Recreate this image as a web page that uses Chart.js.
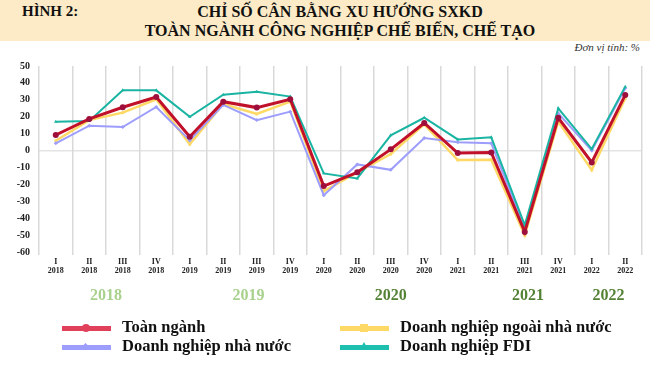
<!DOCTYPE html>
<html>
<head>
<meta charset="utf-8">
<script src="https://cdn.jsdelivr.net/npm/chart.js@4.4.0/dist/chart.umd.min.js"></script>
<style>
    body { margin: 0; width: 650px; height: 366px; background: #fff; position: relative; overflow: hidden; font-family: "Liberation Serif", serif; }
    .band { position: absolute; left: 0; top: 0; width: 650px; height: 41px; background: #fcebc6; }
    .fig { position: absolute; left: 22px; top: 3px; font-weight: bold; font-size: 15px; color: #111; }
    .title { position: absolute; left: 90px; width: 500px; text-align: center; font-weight: bold; font-size: 16px; color: #111; line-height: 19px; top: 2px; }
    .unit { position: absolute; right: 10px; top: 41px; font-style: italic; font-size: 11px; color: #333; }
    #chartWrap { position: absolute; left: 0; top: 0; width: 650px; height: 366px; }
    .legend-item { position: absolute; font-weight: bold; font-size: 16.5px; color: #111; height: 20px; line-height: 20px; }
    .sw { position: absolute; height: 5px; }
    .mk { position: absolute; }
</style>
</head>
<body>
<div class="band"></div>
<div class="fig">HÌNH 2:</div>
<div class="title">CHỈ SỐ CÂN BẰNG XU HƯỚNG SXKD<br>TOÀN NGÀNH CÔNG NGHIỆP CHẾ BIẾN, CHẾ TẠO</div>
<div class="unit">Đơn vị tính: %</div>
<div id="chartWrap"><canvas id="trendChart" width="650" height="366"></canvas></div>
<div id="legend"></div>

<script>
// Quarters and years
const quarters = ['I', 'II', 'III', 'IV', 'I', 'II', 'III', 'IV', 'I', 'II', 'III', 'IV', 'I', 'II', 'III', 'IV', 'I', 'II'];
const years = ['2018', '2018', '2018', '2018', '2019', '2019', '2019', '2019', '2020', '2020', '2020', '2020', '2021', '2021', '2021', '2021', '2022', '2022'];

// Series values (%)
const toanNganh = [9.2, 18.7, 25.6, 31.7, 8.2, 28.9, 25.4, 30.3, -21, -12.9, 0.7, 16.3, -1.5, -1.1, -48.1, 19.4, -7, 32.9];
const nhaNuoc = [4.3, 14.7, 13.9, 25.8, 6, 27, 18, 23, -26.4, -8.2, -11.4, 7.4, 4.9, 4.3, -46, 22, 0, 36.8];
const ngoaiNhaNuoc = [5.8, 18, 22.4, 30.3, 3.7, 27.5, 21.6, 29, -24, -13, -2.1, 15.5, -5.6, -5.4, -50, 17.1, -11.5, 31];
const fdi = [17.1, 17.5, 35.6, 35.6, 20, 33, 34.8, 31.9, -13.5, -16.5, 9, 19.4, 6.6, 7.8, -44.1, 25, 0.9, 37.8];

// Y axis ticks
const yTicks = [50, 40, 30, 20, 10, 0, -10, -20, -30, -40, -50, -60];

// Year group labels under the axis
const yearGroups = ['2018', '2019', '2020', '2021', '2022'];
const yearGroupAt = [1.5, 5.75, 10, 14.1, 16.5];
const yearGroupColors = ['#a9d18e', '#a9d18e', '#548235', '#548235', '#548235'];

const labels = quarters.map((q, i) => [q, years[i]]);

// Draw year group labels below the quarter labels
const yearLabelsPlugin = {
    id: 'yearLabels',
    afterDraw(chart) {
        const ctx = chart.ctx;
        const xScale = chart.scales.x;
        const step = xScale.getPixelForValue(1) - xScale.getPixelForValue(0);
        ctx.save();
        ctx.font = 'bold 16px "Liberation Serif", serif';
        ctx.textAlign = 'center';
        ctx.textBaseline = 'middle';
        yearGroups.forEach((y, i) => {
            ctx.fillStyle = yearGroupColors[i];
            ctx.fillText(y, xScale.getPixelForValue(0) + yearGroupAt[i] * step, 296);
        });
        ctx.restore();
    }
};

new Chart(document.getElementById('trendChart'), {
    type: 'line',
    data: {
        labels: labels,
        datasets: [
            {
                label: 'Toàn ngành',
                data: toanNganh,
                borderColor: '#c0102a',
                backgroundColor: '#9e0f3c',
                borderWidth: 3,
                pointStyle: 'circle',
                pointRadius: 3,
                pointBorderWidth: 0,
                order: 0
            },
            {
                label: 'Doanh nghiệp FDI',
                data: fdi,
                borderColor: '#1ab4a2',
                backgroundColor: '#1ab4a2',
                borderWidth: 2,
                pointStyle: 'triangle',
                pointRadius: 2,
                pointBorderWidth: 0,
                order: 1
            },
            {
                label: 'Doanh nghiệp nhà nước',
                data: nhaNuoc,
                borderColor: '#9d9dfd',
                backgroundColor: '#9d9dfd',
                borderWidth: 2,
                pointStyle: 'rectRot',
                pointRadius: 2,
                pointBorderWidth: 0,
                order: 2
            },
            {
                label: 'Doanh nghiệp ngoài nhà nước',
                data: ngoaiNhaNuoc,
                borderColor: '#ffd966',
                backgroundColor: '#ffd966',
                borderWidth: 2.5,
                pointStyle: 'rect',
                pointRadius: 2,
                pointBorderWidth: 0,
                order: 3
            }
        ]
    },
    options: {
        responsive: false,
        animation: false,
        tension: 0,
        layout: { padding: { top: 66, right: 8, left: 0, bottom: 0 } },
        plugins: {
            legend: { display: false },
            tooltip: { enabled: false }
        },
        scales: {
            y: {
                min: -60,
                max: 50,
                afterFit(scale) { scale.width = 39; },
                afterBuildTicks(scale) { scale.ticks = yTicks.map(v => ({ value: v })); },
                ticks: {
                    padding: 9,
                    color: '#222',
                    font: { family: '"Liberation Serif", serif', size: 10, weight: 'bold' }
                },
                grid: {
                    drawTicks: false,
                    lineWidth: 1.5,
                    color: (c) => (c.tick && c.tick.value === 0) ? '#e3e3e3' : 'rgba(0,0,0,0)'
                },
                border: { display: false }
            },
            x: {
                offset: true,
                afterFit(scale) { scale.height = 114; },
                ticks: {
                    autoSkip: false,
                    maxRotation: 0,
                    padding: 2,
                    color: '#222',
                    font: { family: '"Liberation Serif", serif', size: 8, weight: 'bold' }
                },
                grid: {
                    offset: true,
                    color: '#d9d9d9',
                    lineWidth: 1.5,
                    tickLength: 3
                },
                border: { display: false }
            }
        }
    },
    plugins: [yearLabelsPlugin]
});

// Custom legend (two columns)
const legendItems = [
    { text: 'Toàn ngành', color: '#e0405a', marker: 'circle', x: 62, y: 328 },
    { text: 'Doanh nghiệp nhà nước', color: '#9d9dfd', marker: 'diamond', x: 62, y: 347 },
    { text: 'Doanh nghiệp ngoài nhà nước', color: '#ffd966', marker: 'square', x: 340, y: 328 },
    { text: 'Doanh nghiệp FDI', color: '#1fbfb0', marker: 'triangle', x: 340, y: 347 }
];

const legendEl = document.getElementById('legend');
legendItems.forEach(item => {
    const sw = document.createElement('div');
    sw.className = 'sw';
    sw.style.left = item.x + 'px';
    sw.style.top = (item.y - 2) + 'px';
    sw.style.width = '49px';
    sw.style.background = item.color;
    legendEl.appendChild(sw);

    const mk = document.createElement('div');
    mk.className = 'mk';
    const cx = item.x + 24;
    if (item.marker === 'circle') {
        mk.style.cssText = `left:${cx - 4}px;top:${item.y - 4}px;width:8px;height:8px;border-radius:50%;background:${item.color};`;
    } else if (item.marker === 'square') {
        mk.style.cssText = `left:${cx - 4}px;top:${item.y - 4}px;width:8px;height:8px;background:${item.color};`;
    } else if (item.marker === 'diamond') {
        mk.style.cssText = `left:${cx - 3}px;top:${item.y - 3}px;width:5px;height:5px;transform:rotate(45deg);background:${item.color};`;
    } else {
        mk.style.cssText = `left:${cx - 4}px;top:${item.y - 5}px;width:0;height:0;border-left:4px solid transparent;border-right:4px solid transparent;border-bottom:7px solid ${item.color};`;
    }
    legendEl.appendChild(mk);

    const tx = document.createElement('div');
    tx.className = 'legend-item';
    tx.style.left = (item.x + 60) + 'px';
    tx.style.top = (item.y - 11) + 'px';
    tx.textContent = item.text;
    legendEl.appendChild(tx);
});
</script>
</body>
</html>
